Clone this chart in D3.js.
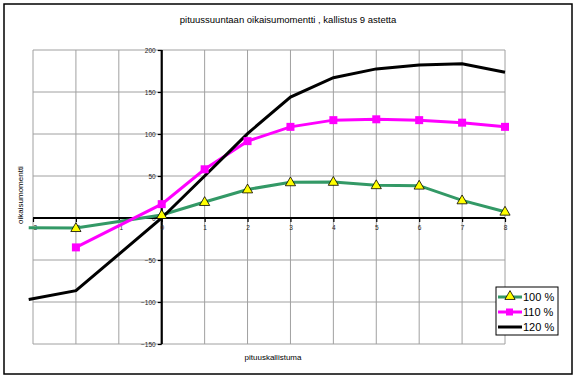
<!DOCTYPE html>
<html><head><meta charset="utf-8">
<script src="https://cdn.jsdelivr.net/npm/d3@7"></script>
<style>body{margin:0;background:#fff;} svg{display:block;font-family:Arial,"Liberation Sans",sans-serif;}</style>
</head><body>
<svg id="c" width="577" height="379"></svg>
<script>
const title = "pituussuuntaan oikaisumomentti , kallistus 9 astetta";
const xLabel = "pituuskallistuma";
const yLabel = "oikaisumomentti";
const xTicks = [-3,-2,-1,0,1,2,3,4,5,6,7,8];
const yTicks = [200,150,100,50,0,-50,-100,-150];
const seriesNames = ["100 %","110 %","120 %"];
const x100 = [-3.1,-2,0,1,2,3,4,5,6,7,8];
const v100 = [-11.5,-12,3.5,19,34,42.5,43,39,38.5,21,7.5];
const x110 = [-2,0,1,2,3,4,5,6,7,8];
const v110 = [-35,16.5,58,91.5,108.5,116.5,117.5,116.5,113.5,108.5];
const x120 = [-3.1,-2,0,1,2,3,4,5,6,7,8];
const v120 = [-97,-86.5,0,50,100.5,144,167,177.5,182,183.5,173.5];

const svg = d3.select("#c");
const W=577,H=379;
svg.append("rect").attr("x",4).attr("y",4).attr("width",568).attr("height",370)
  .attr("fill","#fff").attr("stroke","#000").attr("stroke-width",1.5);
svg.append("text").attr("x",288).attr("y",23).attr("text-anchor","middle")
  .attr("font-size",9.5).text(title);

const x = d3.scaleLinear().domain([-3,8]).range([33,505]);
const y = d3.scaleLinear().domain([-150,200]).range([344,50]);

// gridlines
const g = svg.append("g");
g.selectAll(".vg").data(xTicks).join("line")
  .attr("x1",d=>x(d)).attr("x2",d=>x(d)).attr("y1",y(200)).attr("y2",y(-150))
  .attr("stroke","#a0a0a0").attr("stroke-width",1);
g.selectAll(".hg").data(yTicks).join("line")
  .attr("x1",x(-3)).attr("x2",x(8)).attr("y1",d=>y(d)).attr("y2",d=>y(d))
  .attr("stroke","#a0a0a0").attr("stroke-width",1);

// axes through zero
const yAxis = d3.axisLeft(y).tickValues(yTicks).tickSize(4).tickPadding(2);
const yg = svg.append("g").attr("transform",`translate(${x(0)},0)`).call(yAxis);
const xAxis = d3.axisBottom(x).tickValues(xTicks).tickSize(4).tickPadding(3);
const xg = svg.append("g").attr("transform",`translate(0,${y(0)})`).call(xAxis);
[yg,xg].forEach(a=>{
  a.select(".domain").attr("stroke","#000").attr("stroke-width",2.2);
  a.selectAll(".tick line").attr("stroke","#000").attr("stroke-width",1.2);
  a.selectAll("text").attr("font-size",6.5).attr("fill","#222").attr("font-family","Arial, 'Liberation Sans', sans-serif");
});
xg.select(".domain").attr("d",`M${x(-3)},0H${x(8)}`);
yg.select(".domain").attr("d",`M0,${y(200)}V${y(-150)}`);

// axis labels
svg.append("text").attr("x",273).attr("y",360).attr("text-anchor","middle")
  .attr("font-size",8).text(xLabel);
svg.append("text").attr("transform","translate(23,195) rotate(-90)").attr("text-anchor","middle")
  .attr("font-size",8).text(yLabel);

const line = d3.line().x(d=>x(d[0])).y(d=>y(d[1]));
const d100 = x100.map((v,i)=>[v,v100[i]]);
const d110 = x110.map((v,i)=>[v,v110[i]]);
const d120 = x120.map((v,i)=>[v,v120[i]]);

svg.append("path").datum(d100).attr("d",line).attr("fill","none").attr("stroke","#339966").attr("stroke-width",3);
svg.append("path").datum(d110).attr("d",line).attr("fill","none").attr("stroke","#ff00ff").attr("stroke-width",3);
svg.append("path").datum(d120).attr("d",line).attr("fill","none").attr("stroke","#000").attr("stroke-width",3);

const tri = d3.symbol().type(d3.symbolTriangle).size(45);
svg.selectAll(".m100").data(d100.filter(d=>d[0]>=-3)).join("path")
  .attr("transform",d=>`translate(${x(d[0])},${y(d[1])+0.5})`).attr("d",tri)
  .attr("fill","#ffff00").attr("stroke","#000").attr("stroke-width",0.8);
svg.selectAll(".m110").data(d110).join("rect")
  .attr("x",d=>x(d[0])-4).attr("y",d=>y(d[1])-4).attr("width",8).attr("height",8)
  .attr("fill","#ff00ff");

// legend
const lg = svg.append("g");
lg.append("rect").attr("x",496).attr("y",287).attr("width",62).attr("height",48)
  .attr("fill","#fff").attr("stroke","#000").attr("stroke-width",1);
const colors = ["#339966","#ff00ff","#000"];
seriesNames.forEach((n,i)=>{
  const yy = 297 + i*15;
  lg.append("line").attr("x1",498).attr("x2",522).attr("y1",yy).attr("y2",yy)
    .attr("stroke",colors[i]).attr("stroke-width",3);
  if(i===0) lg.append("path").attr("transform",`translate(510,${yy-0.5})`).attr("d",tri)
    .attr("fill","#ffff00").attr("stroke","#000").attr("stroke-width",0.8);
  if(i===1) lg.append("rect").attr("x",506).attr("y",yy-3.5).attr("width",7).attr("height",7).attr("fill","#ff00ff");
  lg.append("text").attr("x",523).attr("y",yy+4).attr("font-size",11).text(n);
});
</script>
</body></html>
